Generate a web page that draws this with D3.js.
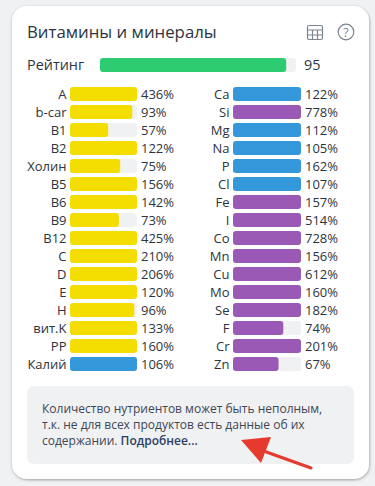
<!DOCTYPE html>
<html>
<head>
<meta charset="utf-8">
<script src="https://cdn.jsdelivr.net/npm/d3@7"></script>
<style>
  html, body { margin: 0; padding: 0; background: #f0f1f3; }
  svg { display: block; }
  text { font-family: "Open Sans", sans-serif; fill: #2c3440; }
</style>
</head>
<body>
<script>
const leftNames = ["A", "b-car", "B1", "B2", "Холин", "B5", "B6", "B9", "B12", "C", "D", "E", "H", "вит.K", "PP", "Калий"];
const leftValues = [436, 93, 57, 122, 75, 156, 142, 73, 425, 210, 206, 120, 96, 133, 160, 106];
const leftGroups = ["vit", "vit", "vit", "vit", "vit", "vit", "vit", "vit", "vit", "vit", "vit", "vit", "vit", "vit", "vit", "macro"];

const rightNames = ["Ca", "Si", "Mg", "Na", "P", "Cl", "Fe", "I", "Co", "Mn", "Cu", "Mo", "Se", "F", "Cr", "Zn"];
const rightValues = [122, 778, 112, 105, 162, 107, 157, 514, 728, 156, 612, 160, 182, 74, 201, 67];
const rightGroups = ["macro", "micro", "macro", "macro", "macro", "macro", "micro", "micro", "micro", "micro", "micro", "micro", "micro", "micro", "micro", "micro"];

const rating = 95;
const noteLines = [
  "Количество нутриентов может быть неполным,",
  "т.к. не для всех продуктов есть данные об их",
  "содержании. "
];

const colors = { vit: "#f4dd00", macro: "#3498db", micro: "#9b59b6" };
const trackColor = "#f0f1f3";

const svg = d3.select("body")
  .append("svg")
  .attr("width", 375)
  .attr("height", 486);

const defs = svg.append("defs");
const shadow = defs.append("filter")
  .attr("id", "shadow")
  .attr("x", "-10%").attr("y", "-10%")
  .attr("width", "120%").attr("height", "120%");
shadow.append("feDropShadow")
  .attr("dx", 0.5).attr("dy", 1)
  .attr("stdDeviation", 1.5)
  .attr("flood-color", "#000")
  .attr("flood-opacity", 0.35);

// карточка
svg.append("rect")
  .attr("x", 12).attr("y", 6)
  .attr("width", 357).attr("height", 473)
  .attr("rx", 15)
  .attr("fill", "#fff")
  .attr("filter", "url(#shadow)");

svg.append("text")
  .attr("x", 27).attr("y", 37.5)
  .attr("font-size", 16.8)
  .text("Витамины и минералы");

// иконка таблицы
const icon = svg.append("g")
  .attr("fill", "none")
  .attr("stroke", "#7c8491")
  .attr("stroke-width", 1.2);
icon.append("rect").attr("x", 307.5).attr("y", 25.5).attr("width", 15).attr("height", 14).attr("rx", 1.5);
icon.append("path").attr("d", "M307.5 30H322.5M307.5 35H322.5M312.5 30V39.5M317.5 30V39.5");
icon.append("circle").attr("cx", 346).attr("cy", 32).attr("r", 7.8);
svg.append("text")
  .attr("x", 346).attr("y", 36.5)
  .attr("text-anchor", "middle")
  .attr("font-size", 12.5)
  .style("fill", "#7c8491")
  .text("?");

// рейтинг
const xRating = d3.scaleLinear().domain([0, 100]).range([100, 296]);
svg.append("text")
  .attr("x", 27).attr("y", 70)
  .attr("font-size", 14.4)
  .text("Рейтинг");
svg.append("rect")
  .attr("x", xRating(0)).attr("y", 58)
  .attr("width", xRating(100) - xRating(0)).attr("height", 14)
  .attr("rx", 3)
  .attr("fill", trackColor);
svg.append("rect")
  .attr("x", xRating(0)).attr("y", 58)
  .attr("width", xRating(rating) - xRating(0)).attr("height", 14)
  .attr("rx", 3)
  .attr("fill", "#2ecc71");
svg.append("text")
  .attr("x", 304).attr("y", 70)
  .attr("font-size", 14.4)
  .text(rating);

function drawColumn(names, values, groups, x0, x1) {
  const x = d3.scaleLinear().domain([0, 100]).range([x0, x1]).clamp(true);
  const y = d3.scaleBand().domain(names).range([85, 373]).padding(0);
  const g = svg.append("g");

  g.selectAll("rect.track")
    .data(names)
    .enter()
    .append("rect")
    .attr("class", "track")
    .attr("x", x0)
    .attr("y", d => y(d) + 2)
    .attr("width", x1 - x0)
    .attr("height", 14)
    .attr("rx", 3)
    .attr("fill", trackColor);

  g.selectAll("rect.bar")
    .data(names)
    .enter()
    .append("rect")
    .attr("class", "bar")
    .attr("x", x0)
    .attr("y", d => y(d) + 2)
    .attr("width", (d, i) => x(values[i]) - x0)
    .attr("height", 14)
    .attr("rx", 3)
    .attr("fill", (d, i) => colors[groups[i]]);

  g.selectAll("text.name")
    .data(names)
    .enter()
    .append("text")
    .attr("class", "name")
    .attr("x", x0 - 3.5)
    .attr("y", d => y(d) + 14)
    .attr("text-anchor", "end")
    .attr("font-size", 13)
    .text(d => d);

  g.selectAll("text.value")
    .data(names)
    .enter()
    .append("text")
    .attr("class", "value")
    .attr("x", x1 + 4)
    .attr("y", d => y(d) + 14)
    .attr("font-size", 13)
    .text((d, i) => values[i] + "%");
}

drawColumn(leftNames, leftValues, leftGroups, 70, 137);
drawColumn(rightNames, rightValues, rightGroups, 233, 301);

// примечание
svg.append("rect")
  .attr("x", 27).attr("y", 386)
  .attr("width", 327).attr("height", 78)
  .attr("rx", 7)
  .attr("fill", trackColor);

const note = svg.append("g").attr("font-size", 12);
noteLines.forEach((line, i) => {
  const t = note.append("text")
    .attr("x", 42)
    .attr("y", 413 + i * 16)
    .style("fill", "#3d4654")
    .text(line);
  if (i === 2) {
    t.append("tspan")
      .attr("font-weight", 600)
      .style("fill", "#2c3e66")
      .text("Подробнее...");
  }
});

// стрелка
svg.append("path")
  .attr("d", "M311 468L258 449")
  .attr("stroke", "#e63a2e")
  .attr("stroke-width", 3)
  .attr("stroke-linecap", "round");
svg.append("path")
  .attr("d", "M241 440L271 437L261 463Z")
  .attr("fill", "#e63a2e");
</script>
</body>
</html>
